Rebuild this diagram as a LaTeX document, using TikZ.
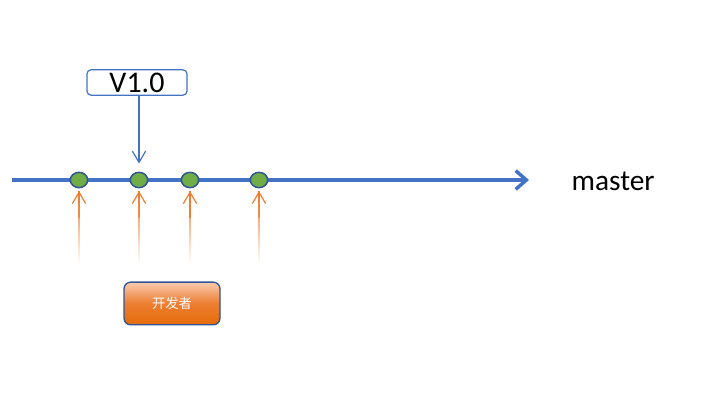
\documentclass[tikz,border=0pt]{standalone}
\usepackage{fontspec}
\setmainfont{Carlito}
\newfontfamily\cjk{Noto Sans CJK SC}
\usetikzlibrary{arrows.meta,fadings,shapes.geometric,calc}
\definecolor{mblue}{HTML}{4472C4}
\definecolor{dblue}{HTML}{2F5597}
\definecolor{mgreen}{HTML}{70AD47}
\definecolor{morange}{HTML}{ED7D31}
\definecolor{dorange}{HTML}{E46C0A}
\definecolor{lorange}{HTML}{F8CBAD}
\tikzfading[name=fadedown, top color=transparent!0, middle color=transparent!10, bottom color=transparent!100]
\tikzset{
  commit/.style={ellipse, draw=dblue, fill=mgreen, line width=1.1pt, minimum width=13pt, minimum height=11.5pt, inner sep=0pt},
  tagbox/.style={draw=mblue, fill=white, rounded corners=3pt, line width=0.9pt, minimum width=75pt, minimum height=19pt, inner sep=0pt, font=\fontsize{22.5}{23}\selectfont},
  devbox/.style={draw=dblue, rounded corners=5pt, line width=1pt, minimum width=72pt, minimum height=32pt, inner sep=0pt, top color=lorange, bottom color=dorange, middle color=morange, text=white, font=\cjk\fontsize{10}{12}\selectfont},
  devline/.style={draw=morange, line width=0.9pt, path fading=fadedown},
  devtip/.style={draw=morange, line width=0.9pt, -{Straight Barb[length=8.5pt,width=10pt]}},
  tagarrow/.style={draw=mblue, line width=0.9pt, -{Straight Barb[length=8.5pt,width=10pt]}},
  mainline/.style={draw=mblue, line width=2.6pt, -{Straight Barb[length=8pt,width=14pt,line width=2.6pt]}}
}
\begin{document}
\begin{tikzpicture}[x=0.75pt,y=-0.75pt]
\useasboundingbox (0,0) rectangle (718,409);
\coordinate (start) at (12,180);
\coordinate (end) at (529,180);
\draw[mainline] (start) -- (end);
\node[commit] (c1) at (79,180) {};
\node[commit] (c2) at (139,180) {};
\node[commit] (c3) at (190,180) {};
\node[commit] (c4) at (259,180) {};
\node[tagbox] (tag) at (137,82.5) {V1.0};
\draw[tagarrow] (tag.south -| c2) -- ([yshift=6pt]c2.north);
\node[font=\fontsize{22}{24}\selectfont, anchor=west] (master) at (567,181) {master};
\node[devbox] (dev) at (172,303.5) {开发者};
\foreach \i/\x in {1/79,2/139,3/190,4/259}{
  \coordinate (b\i) at (\x,263);
  \draw[devline] (b\i) -- ([yshift=-2pt]c\i.south);
  \draw[devtip] ($(b\i)!0.6!(c\i.south)$) -- ([yshift=-2pt]c\i.south);
}
\end{tikzpicture}
\end{document}
